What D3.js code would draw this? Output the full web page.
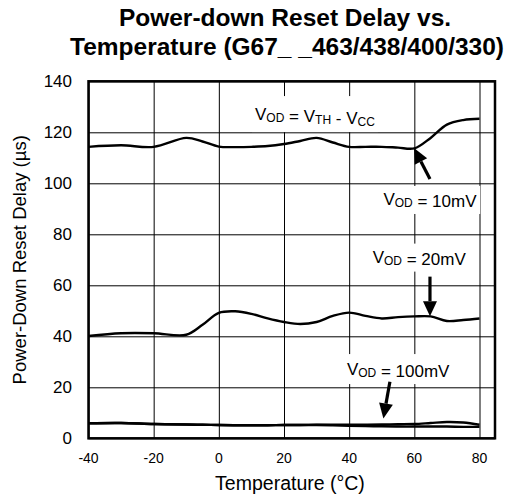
<!DOCTYPE html>
<html>
<head>
<meta charset="utf-8">
<script src="https://cdn.jsdelivr.net/npm/d3@7"></script>
<style>
  body { margin: 0; background: #fff; }
  text { font-family: "Liberation Sans", Arial, sans-serif; fill: #000; }
</style>
</head>
<body>
<div id="chart"></div>
<script>
// Data
const temps = [-40, -30, -20, -10, -5, 0, 5, 10, 15, 20, 25, 30, 35, 40, 45, 50, 55, 60, 65, 70, 75, 80];
const vodThVcc = [114.3, 114.9, 114.3, 117.8, 116.4, 114.4, 114.2, 114.3, 114.6, 115.4, 116.6, 117.8, 116, 114.3, 114.3, 114.3, 114, 113.7, 117.8, 123, 124.8, 125.3];
const vod20mV  = [40.1, 41.2, 41.2, 40.6, 44.5, 49.2, 49.8, 48.8, 47, 45.6, 44.8, 45.6, 48, 49.3, 48, 47, 47.5, 47.8, 47.8, 46, 46.4, 47];
const vod100mVa = [5.9, 6, 5.6, 5.4, 5.3, 5.2, 5.1, 5.1, 5.1, 5.2, 5.2, 5.3, 5.3, 5.3, 5.3, 5.4, 5.5, 5.6, 6, 6.4, 6.2, 5.3];
const vod100mVb = [5.9, 6, 5.6, 5.4, 5.3, 5.2, 5.1, 5.1, 5.1, 5.2, 5.2, 5.2, 5.1, 4.9, 4.8, 4.7, 4.6, 4.6, 4.6, 4.6, 4.5, 4.5];

const xTicks = [-40, -20, 0, 20, 40, 60, 80];
const yTicks = [0, 20, 40, 60, 80, 100, 120, 140];

const W = 515, H = 498;
const xLeft = 88.5, xRight = 495, xAt80 = 479.5;
const yTop = 81.3, yBottom = 438.3;

// x range ends past 80 (frame extends a bit further than the last gridline)
const xMax = 80 + (xRight - xAt80) / ((xAt80 - xLeft) / 120);
const x = d3.scaleLinear().domain([-40, xMax]).range([xLeft, xRight]);
const y = d3.scaleLinear().domain([0, 140]).range([yBottom, yTop]);

const svg = d3.select('#chart').append('svg')
    .attr('width', W)
    .attr('height', H);

// Title
svg.append('text')
    .attr('x', 285).attr('y', 26)
    .attr('text-anchor', 'middle')
    .style('font-size', '24.5px').style('font-weight', 'bold')
    .text('Power-down Reset Delay vs.');
svg.append('text')
    .attr('x', 287).attr('y', 55)
    .attr('text-anchor', 'middle')
    .style('font-size', '24.5px').style('font-weight', 'bold')
    .text('Temperature (G67_ _463/438/400/330)');

// Grid
svg.append('g')
    .attr('transform', `translate(0,${yBottom})`)
    .call(d3.axisBottom(x).tickValues(xTicks).tickSize(-(yBottom - yTop)).tickFormat(''))
    .call(g => g.select('.domain').remove())
    .selectAll('line').attr('stroke', '#000').attr('stroke-width', 1);

svg.append('g')
    .attr('transform', `translate(${xLeft},0)`)
    .call(d3.axisLeft(y).tickValues(yTicks).tickSize(-(xRight - xLeft)).tickFormat(''))
    .call(g => g.select('.domain').remove())
    .selectAll('line').attr('stroke', '#000').attr('stroke-width', 1);

// Tick labels
svg.append('g').selectAll('text')
    .data(xTicks).enter().append('text')
    .attr('x', d => x(d)).attr('y', 463)
    .attr('text-anchor', 'middle')
    .style('font-size', '14px')
    .text(d => d);

svg.append('g').selectAll('text')
    .data(yTicks).enter().append('text')
    .attr('x', 72).attr('y', d => y(d))
    .attr('dy', '0.36em')
    .attr('text-anchor', 'end')
    .style('font-size', '17px')
    .text(d => d);

// Axis titles
svg.append('text')
    .attr('x', 290).attr('y', 490)
    .attr('text-anchor', 'middle')
    .style('font-size', '19.5px')
    .text('Temperature (°C)');

svg.append('text')
    .attr('transform', `translate(26,${(yTop + yBottom) / 2}) rotate(-90)`)
    .attr('text-anchor', 'middle')
    .style('font-size', '18.5px')
    .text('Power-Down Reset Delay (µs)');

// Annotation labels with white backing
function vodLabel(tx, ty, parts, padTop) {
    const g = svg.append('g');
    const t = g.append('text')
        .attr('x', x(tx)).attr('y', y(ty))
        .style('font-size', '17px');
    parts.forEach(p => {
        if (p.sub) {
            t.append('tspan').attr('dy', 2).style('font-size', '12px').text(p.sub);
            t.append('tspan').attr('dy', -2).text('');
        } else {
            t.append('tspan').text(p.txt);
        }
    });
    const bb = t.node().getBBox();
    g.insert('rect', 'text')
        .attr('x', bb.x - 3).attr('y', bb.y - padTop)
        .attr('width', bb.width + 6).attr('height', bb.height + padTop + 3)
        .attr('fill', '#fff');
    return g;
}

vodLabel(11.1, 124.8, [{txt: 'V'}, {sub: 'OD'}, {txt: ' = V'}, {sub: 'TH'}, {txt: ' - V'}, {sub: 'CC'}], 9);
vodLabel(50.5, 91.5, [{txt: 'V'}, {sub: 'OD'}, {txt: ' = 10mV'}], 4);
vodLabel(47.2, 68.9, [{txt: 'V'}, {sub: 'OD'}, {txt: ' = 20mV'}], 4);
vodLabel(39.3, 24.8, [{txt: 'V'}, {sub: 'OD'}, {txt: ' = 100mV'}], 6);

// Curves
const line = d3.line()
    .x(d => x(d[0]))
    .y(d => y(d[1]))
    .curve(d3.curveCatmullRom.alpha(0.5));

[vodThVcc, vod20mV, vod100mVa, vod100mVb].forEach(series => {
    svg.append('path')
        .datum(temps.map((t, i) => [t, series[i]]))
        .attr('fill', 'none')
        .attr('stroke', '#000')
        .attr('stroke-width', 2.4)
        .attr('d', line);
});

// Frame
svg.append('rect')
    .attr('x', xLeft).attr('y', yTop)
    .attr('width', xRight - xLeft).attr('height', yBottom - yTop)
    .attr('fill', 'none')
    .attr('stroke', '#000')
    .attr('stroke-width', 2.5);

// Arrows (tail -> tip, in data units)
const arrows = [
    { from: [64.8, 101.7], to: [59.9, 113.8] },
    { from: [64.8, 63.4], to: [64.8, 47.9] },
    { from: [52.5, 22.2], to: [50.5, 7.8] }
];

arrows.forEach(a => {
    const x1 = x(a.from[0]), y1 = y(a.from[1]);
    const x2 = x(a.to[0]), y2 = y(a.to[1]);
    const ang = Math.atan2(y2 - y1, x2 - x1);
    const headLen = 15, headW = 7;
    const bx = x2 - headLen * Math.cos(ang), by = y2 - headLen * Math.sin(ang);
    svg.append('line')
        .attr('x1', x1).attr('y1', y1)
        .attr('x2', bx).attr('y2', by)
        .attr('stroke', '#000').attr('stroke-width', 3.2);
    const px = -Math.sin(ang) * headW, py = Math.cos(ang) * headW;
    svg.append('path')
        .attr('d', `M${x2},${y2}L${bx + px},${by + py}L${bx - px},${by - py}Z`)
        .attr('fill', '#000');
});
</script>
</body>
</html>
